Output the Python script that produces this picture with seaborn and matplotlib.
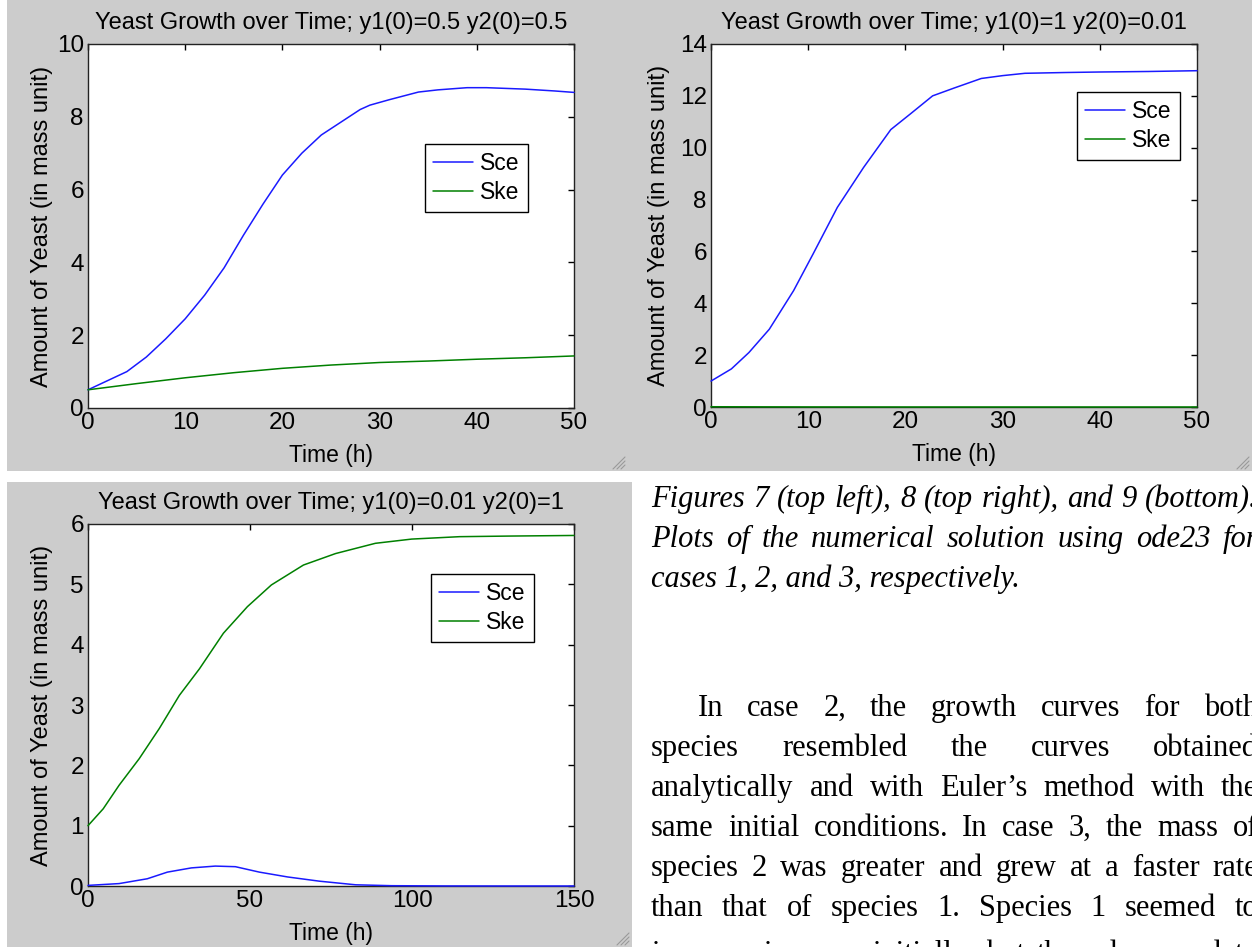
import numpy as np
import pandas as pd
import seaborn as sns
import matplotlib.pyplot as plt
from matplotlib.lines import Line2D
from matplotlib.patches import Rectangle

sns.set_style("white")
plt.rcParams['font.family'] = ['Liberation Sans', 'DejaVu Sans']
plt.rcParams['text.color'] = 'black'
plt.rcParams['axes.labelcolor'] = 'black'

# --- data ---
# case 1: y1(0)=0.5, y2(0)=0.5
t1_sce = [0, 2, 4, 6, 8, 10, 12, 14, 16, 18, 20, 22, 24, 26, 28, 29, 31, 34, 36, 39, 41, 45, 48, 50]
sce1 = [0.5, 0.75, 1.0, 1.4, 1.9, 2.45, 3.1, 3.85, 4.75, 5.6, 6.4, 7.0, 7.5, 7.85, 8.2, 8.32, 8.47, 8.68, 8.74, 8.8, 8.8, 8.76, 8.71, 8.67]
t1_ske = [0, 5, 10, 15, 20, 25, 30, 35, 40, 45, 50]
ske1 = [0.5, 0.67, 0.83, 0.97, 1.09, 1.18, 1.25, 1.29, 1.34, 1.38, 1.43]

# case 2: y1(0)=1, y2(0)=0.01
t2_sce = [0, 2.1, 3.9, 6.0, 8.5, 10.5, 13.0, 15.7, 18.5, 20.5, 22.8, 25, 27.8, 30, 32.3, 36.4, 40, 45, 50]
sce2 = [1.0, 1.47, 2.1, 3.0, 4.49, 5.9, 7.7, 9.24, 10.7, 11.3, 12.0, 12.3, 12.67, 12.78, 12.87, 12.9, 12.92, 12.94, 12.97]
t2_ske = [0, 5, 10, 20, 30, 40, 50]
ske2 = [0.01, 0.006, 0.003, 0.001, 0.0005, 0.0002, 0.0001]

# case 3: y1(0)=0.01, y2(0)=1
t3_sce = [0, 9.6, 18.3, 24.5, 31.9, 39.3, 45.5, 52.9, 61.6, 71.4, 82.6, 93.7, 110, 130, 150]
sce3 = [0.01, 0.04, 0.12, 0.23, 0.30, 0.33, 0.32, 0.23, 0.15, 0.08, 0.02, 0.005, 0.001, 0.0, 0.0]
t3_ske = [0, 4.7, 9.6, 15.8, 22, 28.2, 34.4, 41.8, 49.2, 56.6, 66.5, 76.4, 88.7, 99.9, 114.7, 130, 150]
ske3 = [1.0, 1.28, 1.67, 2.11, 2.61, 3.16, 3.6, 4.19, 4.63, 4.99, 5.32, 5.51, 5.68, 5.75, 5.79, 5.80, 5.81]

titles = ["Yeast Growth over Time; y1(0)=0.5 y2(0)=0.5",
          "Yeast Growth over Time; y1(0)=1 y2(0)=0.01",
          "Yeast Growth over Time; y1(0)=0.01 y2(0)=1"]

caption = ["Figures 7 (top left), 8 (top right), and 9 (bottom).",
           "Plots of the numerical solution using ode23 for",
           "cases 1, 2, and 3, respectively."]
body = ["In case 2, the growth curves for both",
        "species resembled the curves obtained",
        "analytically and with Euler\u2019s method with the",
        "same initial conditions. In case 3, the mass of",
        "species 2 was greater and grew at a faster rate",
        "than that of species 1. Species 1 seemed to",
        "increase in mass initially, but then decreased to"]

BLUE = '#1a1aff'
GREEN = '#008000'
GRAY = '#cccccc'

W, H = 1252, 947
fig = plt.figure(figsize=(W / 100, H / 100), dpi=100)
fig.patch.set_facecolor('white')


def px_rect(x0, y0, x1, y1):
    return [x0 / W, 1 - y1 / H, (x1 - x0) / W, (y1 - y0) / H]


# grey matlab figure windows (behind the axes)
for x0, y0, x1, y1 in [(7, 0, 628, 471), (628, 0, 1252, 471), (7, 482, 632, 947)]:
    fig.patches.append(Rectangle((x0 / W, 1 - y1 / H), (x1 - x0) / W, (y1 - y0) / H,
                                 transform=fig.transFigure, facecolor=GRAY,
                                 edgecolor='none', zorder=-5))
    # little resize grip in the corner
    for d in (4, 8, 12):
        fig.add_artist(Line2D([(x1 - 3 - d) / W, (x1 - 3) / W],
                              [1 - (y1 - 2) / H, 1 - (y1 - 2 - d) / H],
                              color='#999999', lw=0.8, zorder=-4))


def panel(rect, title, t_sce, sce, t_ske, ske, xlim, ylim, xticks, yticks, anchor, ylab_x):
    ax = fig.add_axes(px_rect(*rect))
    ax.set_facecolor('white')
    sns.lineplot(x=t_sce, y=sce, ax=ax, color=BLUE, lw=1.1, label='Sce', clip_on=False, zorder=3)
    sns.lineplot(x=t_ske, y=ske, ax=ax, color=GREEN, lw=1.1, label='Ske', clip_on=False, zorder=3)
    ax.set_xlim(*xlim)
    ax.set_ylim(*ylim)
    ax.set_xticks(xticks)
    ax.set_yticks(yticks)
    ax.tick_params(direction='in', length=4.5, width=1, top=True, right=True,
                   labelsize=17.5, pad=3, colors='black')
    for s in ax.spines.values():
        s.set_visible(True)
        s.set_color('#222222')
        s.set_linewidth(1)
    ax.set_title(title, fontsize=17, pad=11, color='black')
    ax.set_xlabel('Time (h)', fontsize=16.5)
    ax.set_ylabel('Amount of Yeast (in mass unit)', fontsize=17)
    ax.xaxis.set_label_coords(0.5, -0.1)
    ax.xaxis.label.set_va('top')
    ax.yaxis.set_label_coords(ylab_x, 0.5)
    leg = ax.legend(loc='upper right', bbox_to_anchor=anchor, frameon=True, fancybox=False,
                    edgecolor='black', framealpha=1, borderaxespad=0, fontsize=16.5,
                    handlelength=1.75, handletextpad=0.3, labelspacing=0.25, borderpad=0.35)
    leg.get_frame().set_linewidth(1)
    for txt in leg.get_texts():
        txt.set_color('black')
    return ax


panel((88, 44, 574, 408), titles[0], t1_sce, sce1, t1_ske, ske1, (0, 50), (0, 10),
      [0, 10, 20, 30, 40, 50], [0, 2, 4, 6, 8, 10], (0.905, 0.725), -0.073)
panel((711, 44, 1197, 407), titles[1], t2_sce, sce2, t2_ske, ske2, (0, 50), (0, 14),
      [0, 10, 20, 30, 40, 50], [0, 2, 4, 6, 8, 10, 12, 14], (0.964, 0.867), -0.084)
panel((88, 524, 574, 886), titles[2], t3_sce, sce3, t3_ske, ske3, (0, 150), (0, 6),
      [0, 50, 100, 150], [0, 1, 2, 3, 4, 5, 6], (0.917, 0.862), -0.073)

# --- document text to the right of the bottom plot ---
renderer = fig.canvas.get_renderer()


def text_w(s, **kw):
    t = fig.text(0, 0, s, **kw)
    w = t.get_window_extent(renderer).width
    t.remove()
    return w


def justified(line, x0, x1, y, **kw):
    words = line.split()
    widths = [text_w(w, **kw) for w in words]
    gap = (x1 - x0 - sum(widths)) / (len(words) - 1)
    x = x0
    for w, wd in zip(words, widths):
        fig.text(x / W, 1 - y / H, w, va='baseline', ha='left', **kw)
        x += wd + gap


serif = dict(family=['Liberation Serif', 'DejaVu Serif'], fontsize=22, color='black')
RIGHT = 1258
cap_y = [507, 547, 587]
for i, line in enumerate(caption):
    if i < len(caption) - 1:
        justified(line, 651, RIGHT, cap_y[i], style='italic', **serif)
    else:
        fig.text(651 / W, 1 - cap_y[i] / H, line, va='baseline', style='italic', **serif)

body_y = [716, 756, 796, 836, 876, 916, 962]
for i, line in enumerate(body):
    x0 = 698 if i == 0 else 651
    justified(line, x0, RIGHT, body_y[i], **serif)

fig.savefig('out.png', dpi=100)
